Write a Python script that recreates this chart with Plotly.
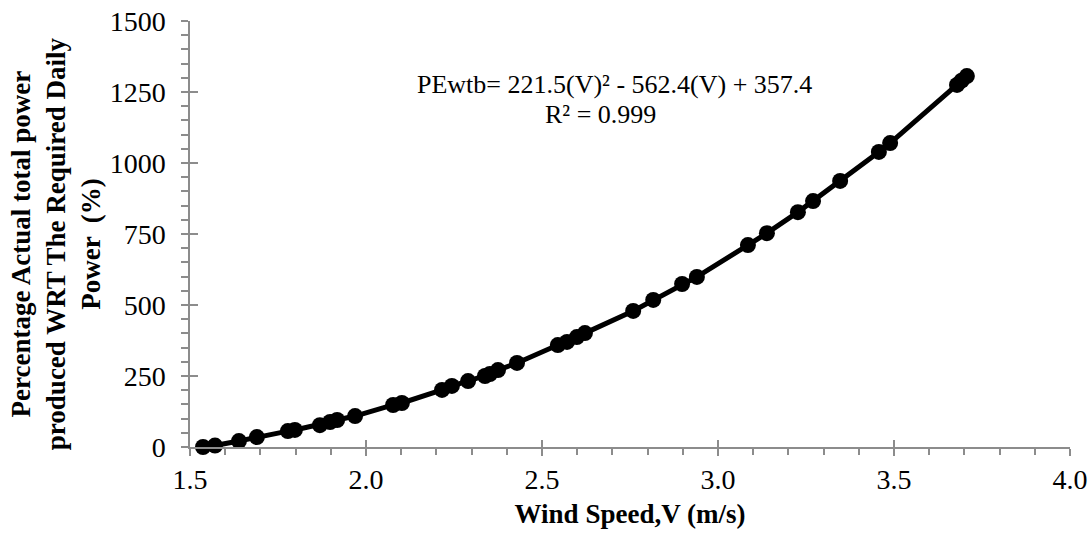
import plotly.graph_objects as go

wind_speed = [1.537, 1.571, 1.639, 1.690, 1.778, 1.798, 1.869, 1.898, 1.918, 1.969,
              2.077, 2.102, 2.216, 2.244, 2.290, 2.338, 2.352, 2.375, 2.429, 2.545,
              2.571, 2.599, 2.622, 2.759, 2.816, 2.898, 2.940, 3.085, 3.139, 3.227,
              3.270, 3.347, 3.457, 3.489, 3.679, 3.692, 3.707]
pct_power = [0, 5, 21, 35, 56, 60, 77, 88, 95, 109,
             148, 155, 201, 215, 232, 250, 257, 271, 296, 359,
             370, 387, 401, 479, 518, 574, 599, 711, 753, 827,
             866, 937, 1039, 1070, 1275, 1290, 1306]

x_ticks = [1.5, 2.0, 2.5, 3.0, 3.5, 4.0]
x_tick_labels = ["1.5", "2.0", "2.5", "3.0", "3.5", "4.0"]
y_ticks = [0, 250, 500, 750, 1000, 1250, 1500]

FONT = "Liberation Serif"
AX = "#8c8c8c"

fig = go.Figure()
fig.add_trace(go.Scatter(
    x=wind_speed, y=pct_power, mode="lines+markers",
    line=dict(color="black", width=5),
    marker=dict(color="black", size=16),
    showlegend=False, cliponaxis=False,
))
# invisible trace to drive overlay axes (inside halves of major ticks)
fig.add_trace(go.Scatter(x=[1.5], y=[0], xaxis="x2", yaxis="y2",
                         mode="markers", marker=dict(opacity=0), showlegend=False,
                         hoverinfo="skip"))

fig.update_layout(
    width=1089, height=536,
    margin=dict(l=190, r=19, t=21, b=89, autoexpand=False),
    paper_bgcolor="white", plot_bgcolor="white",
    font=dict(family=FONT, color="black"),
    xaxis=dict(
        range=[1.5, 4.0], tickvals=x_ticks, ticktext=x_tick_labels, automargin=False,
        showgrid=False, zeroline=False, showline=True, linecolor=AX, linewidth=1.5,
        ticks="outside", ticklen=7, tickcolor=AX, tickwidth=1.5,
        tickfont=dict(size=28, family=FONT),
        minor=dict(ticks="outside", dtick=0.1, ticklen=6, tickcolor=AX, tickwidth=1.5, showgrid=False),
        title=dict(text="<b>Wind Speed,V (m/s)</b>", font=dict(size=27, family=FONT), standoff=10),
    ),
    yaxis=dict(
        range=[0, 1500], tickvals=y_ticks, automargin=False,
        showgrid=False, zeroline=False, showline=True, linecolor=AX, linewidth=1.5,
        ticks="outside", ticklen=7, tickcolor=AX, tickwidth=1.5,
        tickfont=dict(size=28, family=FONT), ticklabelstandoff=10,
        minor=dict(ticks="outside", dtick=50, ticklen=7, tickcolor=AX, tickwidth=1.5, showgrid=False),
    ),
    xaxis2=dict(range=[1.5, 4.0], overlaying="x", tickvals=x_ticks, showticklabels=False,
                ticks="inside", ticklen=7, tickcolor=AX, tickwidth=1.5, automargin=False,
                showgrid=False, zeroline=False, showline=False),
    yaxis2=dict(range=[0, 1500], overlaying="y", tickvals=y_ticks, showticklabels=False,
                ticks="inside", ticklen=8, tickcolor=AX, tickwidth=1.5, automargin=False,
                showgrid=False, zeroline=False, showline=False),
    annotations=[
        dict(text="<b>Percentage Actual total power<br>produced WRT The Required Daily<br>Power  (%)</b>",
             xref="paper", yref="paper", x=-0.153, y=0.477, xanchor="center", yanchor="middle",
             textangle=-90, showarrow=False, font=dict(size=27, family=FONT)),
        dict(text="PEwtb= 221.5(V)² - 562.4(V) + 357.4",
             xref="paper", yref="paper", x=(614-190)/880, y=(447-84)/426,
             xanchor="center", yanchor="middle", showarrow=False, font=dict(size=26, family=FONT)),
        dict(text="R² = 0.999",
             xref="paper", yref="paper", x=(600-190)/880, y=(447-115)/426,
             xanchor="center", yanchor="middle", showarrow=False, font=dict(size=26, family=FONT)),
    ],
)

fig.write_html("out.html")
